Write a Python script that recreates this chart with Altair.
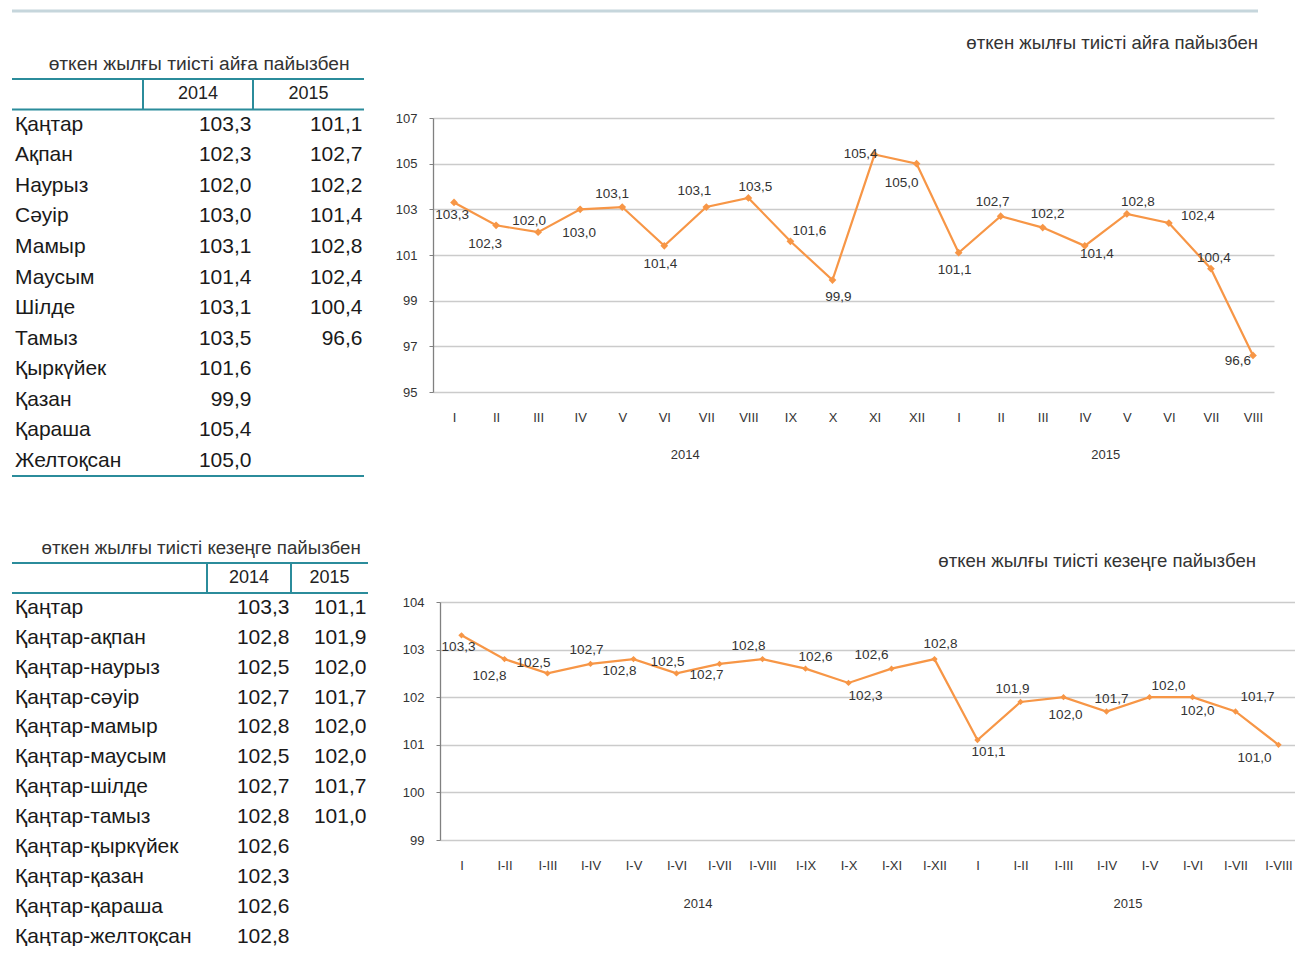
import json
import altair as alt
import pandas as pd

# ---------------- data ----------------
YEARS = ["2014", "2015"]
MONTHS_KZ = ["Қаңтар", "Ақпан", "Наурыз", "Сәуір", "Мамыр", "Маусым", "Шілде",
             "Тамыз", "Қыркүйек", "Қазан", "Қараша", "Желтоқсан"]
PERIODS_KZ = ["Қаңтар", "Қаңтар-ақпан", "Қаңтар-наурыз", "Қаңтар-сәуір", "Қаңтар-мамыр",
              "Қаңтар-маусым", "Қаңтар-шілде", "Қаңтар-тамыз", "Қаңтар-қыркүйек",
              "Қаңтар-қазан", "Қаңтар-қараша", "Қаңтар-желтоқсан"]
M2014 = [103.3, 102.3, 102.0, 103.0, 103.1, 101.4, 103.1, 103.5, 101.6, 99.9, 105.4, 105.0]
M2015 = [101.1, 102.7, 102.2, 101.4, 102.8, 102.4, 100.4, 96.6]
C2014 = [103.3, 102.8, 102.5, 102.7, 102.8, 102.5, 102.7, 102.8, 102.6, 102.3, 102.6, 102.8]
C2015 = [101.1, 101.9, 102.0, 101.7, 102.0, 102.0, 101.7, 101.0]
MONTH_TICKS = ["I", "II", "III", "IV", "V", "VI", "VII", "VIII", "IX", "X", "XI", "XII",
               "I", "II", "III", "IV", "V", "VI", "VII", "VIII"]
PERIOD_TICKS = ["I", "I-II", "I-III", "I-IV", "I-V", "I-VI", "I-VII", "I-VIII", "I-IX", "I-X",
                "I-XI", "I-XII", "I", "I-II", "I-III", "I-IV", "I-V", "I-VI", "I-VII", "I-VIII"]
Y1_TICKS = [95, 97, 99, 101, 103, 105, 107]
Y2_TICKS = [99, 100, 101, 102, 103, 104]
TITLE_MONTH = "өткен жылғы тиісті айға пайызбен"
TITLE_PERIOD = "өткен жылғы тиісті кезеңге пайызбен"

# label placement (pixel offsets of each data label from its point)
M_LABEL_OFF = [(-2, 13), (-11, 19), (-9, -11), (-1, 24), (-10, -13), (-4, 18), (-12, -16),
               (7, -11), (19, -10), (6, 17), (-14, -1), (-15, 19), (-4, 17), (-8, -14),
               (5, -14), (12, 8), (11, -12), (29, -7), (3, -11), (-15, 6)]
C_LABEL_OFF = [(-3, 12), (-15, 17), (-14, -10), (-4, -14), (-14, 12), (-9, -11), (-13, 11),
               (-14, -13), (10, -12), (17, 13), (-20, -14), (6, -15), (11, 12), (-8, -13),
               (2, 18), (5, -12), (19, -11), (5, 14), (22, -14), (-24, 13)]

# ---------------- style ----------------
ORANGE = "#F79646"
TEAL = "#2B8C9B"
FONT = "Liberation Sans, Arial, DejaVu Sans, sans-serif"
W, H = 1287, 938


def fmt(v):
    return f"{v:.1f}".replace(".", ",")


def make_table(title, names, v14, v15, xbounds, ytop, step, title_x, title_size):
    n = len(names)
    xs = alt.Scale(domain=[0, 1, 2, 3], range=xbounds, nice=False, zero=False)
    ys = alt.Scale(domain=[-0.5, n + 0.5], range=[ytop, ytop + (n + 1) * step],
                   nice=False, zero=False)
    t15 = [fmt(v) for v in v15] + [""] * (n - len(v15))
    cells = pd.DataFrame({
        "r": list(range(1, n + 1)) * 3,
        "col": [0] * n + [2] * n + [3] * n,
        "txt": list(names) + [fmt(v) for v in v14] + t15,
    })
    header = pd.DataFrame({"r": [0, 0], "col": [1.5, 2.5], "txt": YEARS})
    ttl = pd.DataFrame({"r": [-1], "col": [title_x], "txt": [title]})
    hl = pd.DataFrame({"ty": [-0.5, 0.5, n + 0.5], "tx": [0, 0, 0], "tx2": [3, 3, 3]})
    vl = pd.DataFrame({"tx": [1, 2], "ty": [-0.5, -0.5], "ty2": [0.5, 0.5]})

    X = lambda f: alt.X(f, type="quantitative", scale=xs, axis=None)
    Y = lambda f: alt.Y(f, type="quantitative", scale=ys, axis=None)

    hrules = alt.Chart(hl).mark_rule(color=TEAL, strokeWidth=2).encode(
        x=X("tx"), x2="tx2", y=Y("ty"))
    vrules = alt.Chart(vl).mark_rule(color=TEAL, strokeWidth=2).encode(
        x=X("tx"), y=Y("ty"), y2="ty2")
    t_title = alt.Chart(ttl).mark_text(align="center", baseline="middle", fontSize=title_size,
                                       color="#333333").encode(x=X("col"), y=Y("r"), text="txt")
    t_head = alt.Chart(header).mark_text(align="center", baseline="middle", fontSize=18,
                                         color="#222222").encode(x=X("col"), y=Y("r"), text="txt")
    t_names = alt.Chart(cells).transform_filter("datum.col == 0").mark_text(
        align="left", baseline="middle", dx=3, fontSize=21, color="#1a1a1a").encode(
        x=X("col"), y=Y("r"), text="txt")
    t_vals = alt.Chart(cells).transform_filter("datum.col > 0").mark_text(
        align="right", baseline="middle", dx=-1.5, fontSize=21, color="#1a1a1a").encode(
        x=X("col"), y=Y("r"), text="txt")
    return alt.layer(hrules, vrules, t_title, t_head, t_names, t_vals)


def make_chart(title, title_pos, ticks, v14, v15, offs, xr, yr, ydom, yticks, pt_size,
               year_gap):
    n = len(ticks)
    vals = v14 + v15
    df = pd.DataFrame({
        "idx": list(range(n)),
        "val": vals,
        "lbl": [fmt(v) for v in vals],
        "ox": [o[0] for o in offs],
        "oy": [o[1] for o in offs],
        "year": [YEARS[0]] * len(v14) + [YEARS[1]] * len(v15),
    })
    expr = json.dumps(ticks, ensure_ascii=False) + "[datum.value]"
    left, right = xr
    top, bottom = yr
    xs = alt.Scale(domain=[-0.5, n - 0.5], range=[left, right], nice=False, zero=False)
    ys = alt.Scale(domain=ydom, range=[bottom, top], nice=False, zero=False)
    xaxis = alt.Axis(orient="bottom", offset=bottom - H, values=list(range(n)),
                     labelExpr=expr, grid=False, domain=False, ticks=False, tickSize=0,
                     labelPadding=19, labelFontSize=13, labelColor="#333333",
                     labelOverlap=False, labelFlush=False,
                     labelBound=False, title=None, labelFont=FONT)
    yaxis = alt.Axis(orient="left", offset=-left, values=yticks, format="d", grid=True,
                     gridColor="#CBCBCB", gridWidth=1.6, domain=True, domainColor="#808080",
                     domainWidth=1.3, ticks=True, tickSize=4, tickColor="#808080",
                     labelPadding=12, labelFontSize=13, labelColor="#333333", title=None,
                     labelFont=FONT)
    enc = dict(x=alt.X("idx:Q", scale=xs, axis=xaxis), y=alt.Y("val:Q", scale=ys, axis=yaxis))
    base = alt.Chart(df)
    line = base.mark_line(color=ORANGE, strokeWidth=2.2).encode(**enc)
    pts = base.mark_point(shape="diamond", filled=True, size=pt_size, opacity=1,
                          color=ORANGE).encode(**enc)
    labels = base.mark_text(fontSize=13.5, color="#333333", baseline="middle",
                            align="center", dx={"expr": "datum.ox"},
                            dy={"expr": "datum.oy"}).encode(**enc, text="lbl")
    # year captions centred under each year's group of categories
    years = base.mark_text(fontSize=13, color="#333333", baseline="middle",
                           align="center").encode(
        x=alt.X("mean(idx):Q", scale=xs, axis=xaxis),
        y=alt.value(bottom + year_gap),
        text="year:N")
    ttl = alt.Chart(pd.DataFrame({"t": [title]})).mark_text(
        align="right", baseline="middle", fontSize=18.6, color="#333333",
        x=title_pos[0], y=title_pos[1]).encode(text="t")
    return alt.layer(line, pts, labels, years, ttl)


deco = alt.Chart(pd.DataFrame({"a": [0]})).mark_rule(color="#C6D6DC", strokeWidth=3).encode(
    x=alt.value(4), x2=alt.value(1250), y=alt.value(3))

table1 = make_table(TITLE_MONTH, MONTHS_KZ, M2014, M2015, [4, 135, 245, 356], 71, 30.54,
                    1.51, 19.2)
table2 = make_table(TITLE_PERIOD, PERIODS_KZ, C2014, C2015, [4, 199, 283, 360], 555, 29.9,
                    0.97, 18.7)

chart1 = make_chart(TITLE_MONTH, (1250, 35), MONTH_TICKS, M2014, M2015, M_LABEL_OFF,
                    (425, 1266), (110, 384), [95, 107], Y1_TICKS, 60, 63)
chart2 = make_chart(TITLE_PERIOD, (1248, 553), PERIOD_TICKS, C2014, C2015, C_LABEL_OFF,
                    (432, 1292), (594, 832), [99, 104], Y2_TICKS, 40, 64)

chart = alt.layer(deco, table1, chart1, table2, chart2).resolve_scale(
    x="independent", y="independent"
).properties(
    width=W, height=H, padding=0, autosize=alt.AutoSizeParams(type="none")
).configure(font=FONT).configure_view(stroke=None)

chart.save("out.html", embed_options={"renderer": "svg", "actions": False})
